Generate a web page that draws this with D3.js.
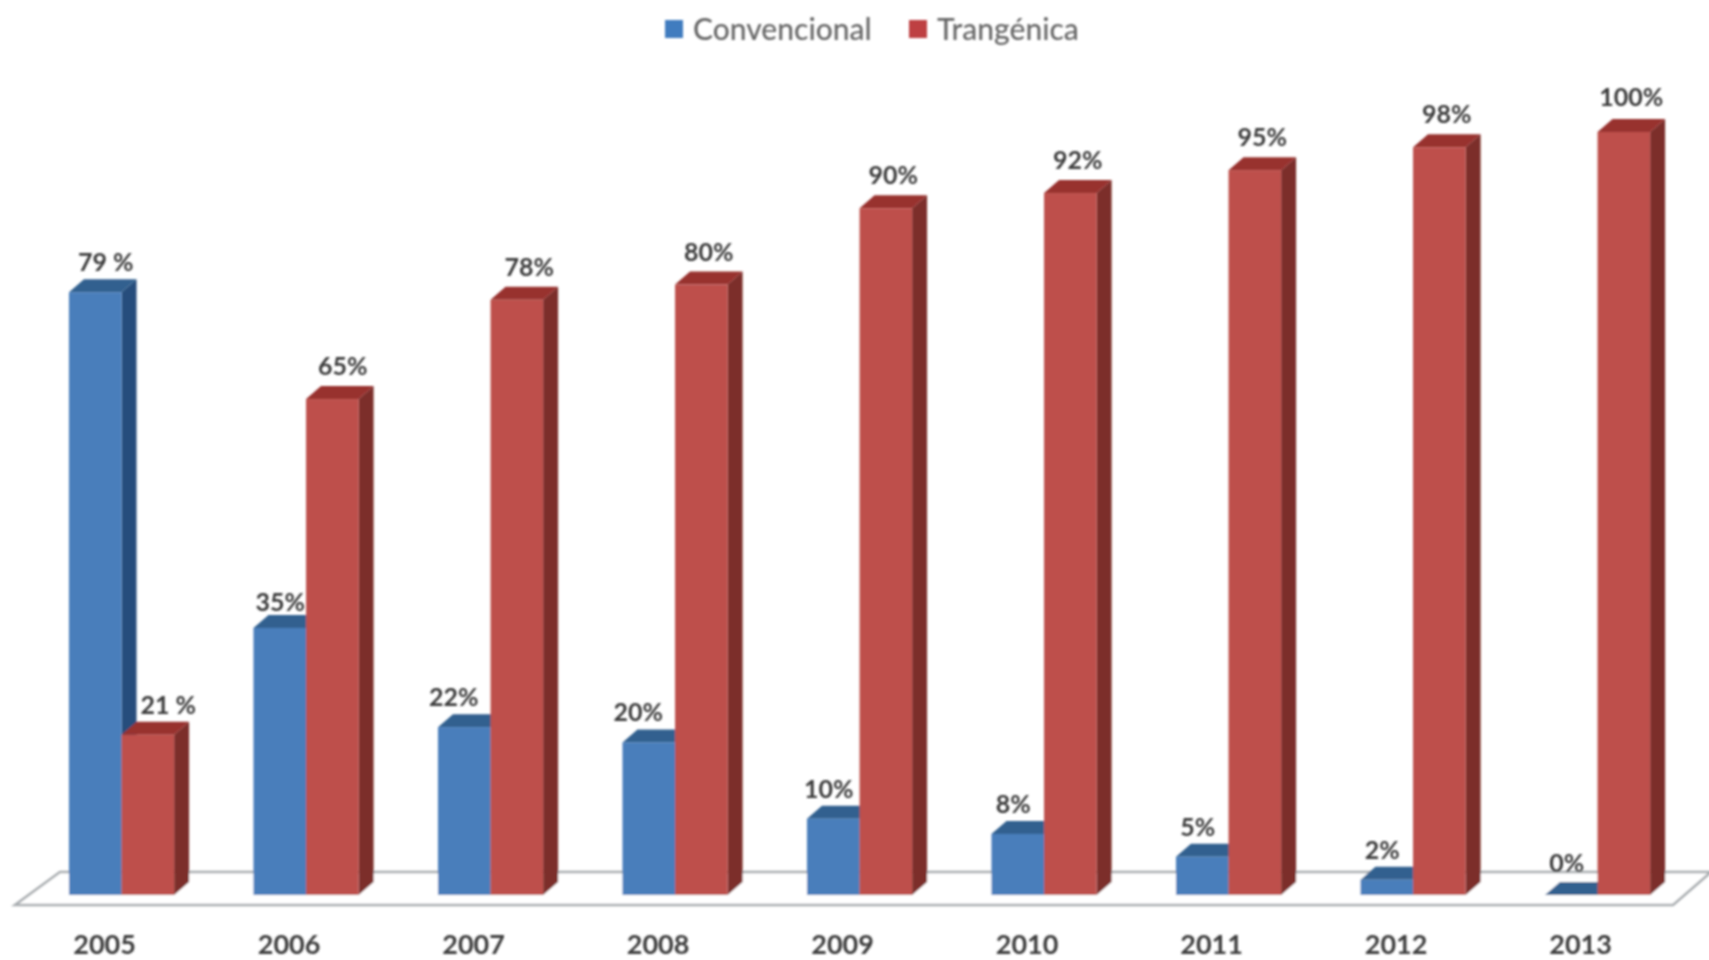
<!DOCTYPE html>
<html>
<head>
<meta charset="utf-8">
<script src="https://cdn.jsdelivr.net/npm/d3@7"></script>
<style>
html,body{margin:0;padding:0;background:#fff;overflow:hidden}
svg{display:block}
text{font-family:Lato,"Open Sans",sans-serif}
</style>
</head>
<body>
<svg id="chart" width="1709" height="960"></svg>
<script>
const years = ["2005","2006","2007","2008","2009","2010","2011","2012","2013"];
const seriesNames = ["Convencional","Trangénica"];
const convencional = [79,35,22,20,10,8,5,2,0];
const transgenica = [21,65,78,80,90,92,95,98,100];
const convencionalLabels = ["79 %","35%","22%","20%","10%","8%","5%","2%","0%"];
const transgenicaLabels = ["21 %","65%","78%","80%","90%","92%","95%","98%","100%"];

const W = 1709, H = 960, depthX = 15, depthY = 13;
const svg = d3.select("#chart");
const defs = svg.append("defs");
defs.append("filter").attr("id","soft").attr("filterUnits","userSpaceOnUse")
  .attr("x",0).attr("y",0).attr("width",W).attr("height",H)
  .append("feGaussianBlur").attr("stdDeviation",0.95);
const root = svg.append("g").attr("filter","url(#soft)");

const x0 = d3.scaleBand().domain(years).range([29.3,1689.8]).paddingInner(0.43).paddingOuter(0.215);
const x1 = d3.scaleBand().domain(seriesNames).range([0,x0.bandwidth()]);
const y = d3.scaleLinear().domain([0,100]).range([895,132]);

const palettes = {
  "Convencional": {front:"#4a7ebb", side:"#264d7c", top:"#32608f", legend:"#3f7cbf"},
  "Trangénica": {front:"#be4f4b", side:"#7c2f2c", top:"#98302e", legend:"#be3f42"}
};

// floor
const floorY0 = y(0)+10, floorY1 = y(0)-23;
root.append("polygon")
  .attr("points",[[15,floorY0],[1673,floorY0],[W+2,floorY1],[60,floorY1]].join(" "))
  .attr("fill","#fff").attr("stroke","#a9adb0").attr("stroke-width",2.6);

const rows = [];
years.forEach((yr,i)=>{
  rows.push({year:yr,series:seriesNames[0],value:convencional[i],label:convencionalLabels[i]});
  rows.push({year:yr,series:seriesNames[1],value:transgenica[i],label:transgenicaLabels[i]});
});

const bars = root.selectAll("g.bar").data(rows).join("g").attr("class","bar");
bars.each(function(d){
  const g = d3.select(this), p = palettes[d.series];
  const l = x0(d.year)+x1(d.series), r = l+x1.bandwidth(), t = y(d.value), b = y(0);
  g.append("polygon").attr("fill",p.side)
    .attr("points",[[r,t],[r+depthX,t-depthY],[r+depthX,b-depthY],[r,b]].join(" "));
  g.append("polygon").attr("fill",p.top)
    .attr("points",[[l,t],[l+depthX,t-depthY],[r+depthX,t-depthY],[r,t]].join(" "));
  g.append("rect").attr("x",l).attr("y",t).attr("width",x1.bandwidth()).attr("height",b-t).attr("fill",p.front);
});

// value labels, nudged per series as the reference places them
const labelNudge = {"2005|Convencional":15,"2005|Trangénica":13,"2006|Convencional":5,"2006|Trangénica":3,"2007|Convencional":-6,"2007|Trangénica":5,"2008|Convencional":-6};
const labelLift = {"2005|Trangénica":-3,"2006|Convencional":-4,"2013|Trangénica":2,"2013|Convencional":2};
root.selectAll("text.val").data(rows).join("text").attr("class","val")
  .attr("x",d=>{
    const base = x0(d.year)+x1(d.series)+x1.bandwidth()/2+depthX/2;
    const shift = d.series===seriesNames[0] ? -12 : 0;
    return base+shift+(labelNudge[d.year+"|"+d.series]||0);
  })
  .attr("y",d=>y(d.value)-depthY-(d.series===seriesNames[0]?17:20)-(labelLift[d.year+"|"+d.series]||0))
  .attr("dy","0.36em").attr("text-anchor","middle")
  .attr("font-size",25).attr("font-weight",700).attr("fill","#3a3a3a")
  .text(d=>d.label);

// year axis
const axis = root.append("g").attr("transform",`translate(-17,${y(0)})`)
  .call(d3.axisBottom(x0).tickSize(0).tickPadding(0));
axis.select(".domain").remove();
axis.selectAll("text").attr("y",59).attr("dy",0)
  .attr("font-size",27).attr("font-weight",700).attr("fill","#3c3c3c")
  .style("font-family","Lato,'Open Sans',sans-serif");

// legend
const legendPos = d3.scaleOrdinal().domain(seriesNames).range([665,909]);
const lg = root.selectAll("g.lg").data(seriesNames).join("g").attr("class","lg")
  .attr("transform",d=>`translate(${legendPos(d)},29)`);
lg.append("rect").attr("x",0).attr("y",-9).attr("width",18).attr("height",18).attr("fill",d=>palettes[d].legend);
lg.append("text").attr("x",28).attr("dy","0.36em").attr("font-size",30).attr("fill","#666")
  .attr("font-weight",500).text(d=>d);
</script>
</body>
</html>
